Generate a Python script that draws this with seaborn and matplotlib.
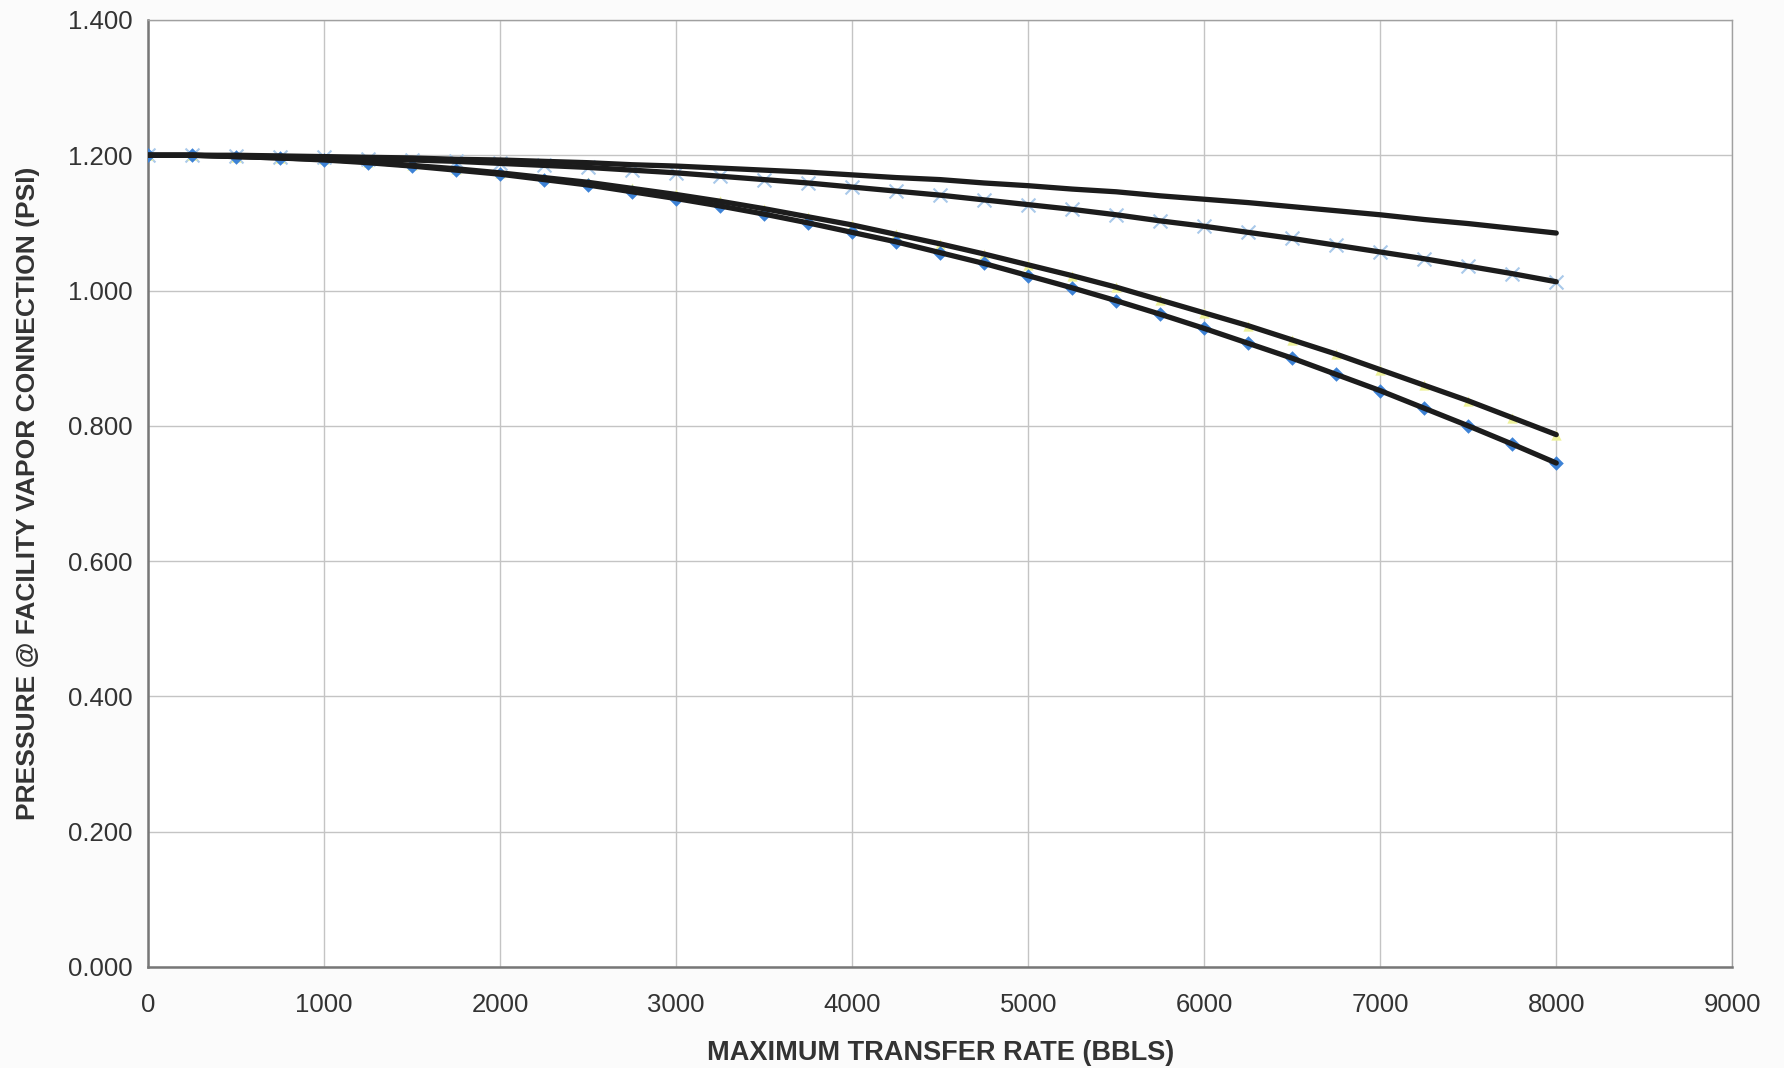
import numpy as np
import pandas as pd
import matplotlib
matplotlib.use("Agg")
import matplotlib.pyplot as plt
import seaborn as sns
from matplotlib.ticker import FormatStrFormatter

# ---- data ----
rate = [0, 250, 500, 750, 1000, 1250, 1500, 1750, 2000, 2250, 2500, 2750,
        3000, 3250, 3500, 3750, 4000, 4250, 4500, 4750, 5000, 5250, 5500,
        5750, 6000, 6250, 6500, 6750, 7000, 7250, 7500, 7750, 8000]

series_top = [1.200, 1.200, 1.200, 1.199, 1.198, 1.197, 1.196, 1.194, 1.193,
              1.191, 1.189, 1.186, 1.184, 1.181, 1.178, 1.175, 1.171, 1.167,
              1.164, 1.159, 1.155, 1.150, 1.146, 1.140, 1.135, 1.130, 1.124,
              1.118, 1.112, 1.105, 1.099, 1.092, 1.085]

series_x = [1.200, 1.200, 1.199, 1.198, 1.197, 1.195, 1.193, 1.191, 1.188,
            1.185, 1.182, 1.178, 1.174, 1.169, 1.164, 1.159, 1.153, 1.147,
            1.141, 1.134, 1.127, 1.120, 1.112, 1.103, 1.095, 1.086, 1.077,
            1.067, 1.057, 1.047, 1.036, 1.025, 1.013]

series_yellow = [1.200, 1.200, 1.198, 1.196, 1.194, 1.190, 1.185, 1.180, 1.174,
                 1.167, 1.160, 1.151, 1.142, 1.132, 1.121, 1.109, 1.097, 1.083,
                 1.069, 1.054, 1.038, 1.022, 1.005, 0.986, 0.967, 0.948, 0.927,
                 0.906, 0.883, 0.860, 0.837, 0.812, 0.787]

series_diamond = [1.200, 1.200, 1.198, 1.196, 1.193, 1.189, 1.184, 1.178, 1.172,
                  1.164, 1.156, 1.146, 1.136, 1.125, 1.113, 1.100, 1.086, 1.072,
                  1.056, 1.040, 1.022, 1.004, 0.985, 0.965, 0.944, 0.922, 0.900,
                  0.876, 0.852, 0.826, 0.800, 0.773, 0.745]

x_ticks = [0, 1000, 2000, 3000, 4000, 5000, 6000, 7000, 8000, 9000]
y_ticks = [0.0, 0.2, 0.4, 0.6, 0.8, 1.0, 1.2, 1.4]

x_label = "MAXIMUM TRANSFER RATE (BBLS)"
y_label = "PRESSURE @ FACILITY VAPOR CONNECTION (PSI)"

# ---- figure ----
sns.set_style("white")
plt.rcParams["font.family"] = ["Liberation Sans", "DejaVu Sans"]

fig = plt.figure(figsize=(17.84, 10.68), dpi=100, facecolor="#fbfbfb")
ax = fig.add_axes([0.083, 0.0946, 0.888, 0.8867])
ax.set_facecolor("white")

df = pd.DataFrame({"rate": rate, "top": series_top, "x": series_x,
                   "yellow": series_yellow, "diamond": series_diamond})

# markers (under the black curves)
sns.scatterplot(data=df, x="rate", y="x", marker="x", s=100, linewidth=1.5,
                color="#a9c9ea", ax=ax, zorder=3, legend=False)
sns.scatterplot(data=df, x="rate", y="yellow", marker="^", s=55, linewidth=0,
                color="#eef29a", ax=ax, zorder=3, legend=False)
sns.scatterplot(data=df, x="rate", y="diamond", marker="D", s=55, linewidth=0,
                color="#3d82d6", ax=ax, zorder=3, legend=False)

# black curves
for col in ["top", "x", "yellow", "diamond"]:
    sns.lineplot(data=df, x="rate", y=col, color="#1c1c1c", linewidth=3.8,
                 ax=ax, zorder=4, legend=False)

ax.set_xlim(0, 9000)
ax.set_ylim(0, 1.4)
ax.set_xticks(x_ticks)
ax.set_yticks(y_ticks)
ax.yaxis.set_major_formatter(FormatStrFormatter("%.3f"))
ax.grid(True, color="#c4c4c4", linewidth=1.0)
ax.set_axisbelow(True)
for s in ax.spines.values():
    s.set_color("#a0a0a0")
    s.set_linewidth(1.0)
ax.spines["left"].set_color("#777777")
ax.spines["bottom"].set_color("#777777")
ax.spines["left"].set_linewidth(1.8)
ax.spines["bottom"].set_linewidth(1.8)

ax.tick_params(axis="both", labelsize=18.5, colors="#333333", length=5,
               width=1, direction="out", pad=6)
ax.tick_params(axis="x", pad=14)

ax.set_xlabel(x_label, fontsize=19.5, fontweight="bold", color="#333333",
              labelpad=16)
ax.set_ylabel(y_label, fontsize=19, fontweight="bold", color="#333333",
              labelpad=20)

fig.savefig("out.png", dpi=100, facecolor=fig.get_facecolor())
